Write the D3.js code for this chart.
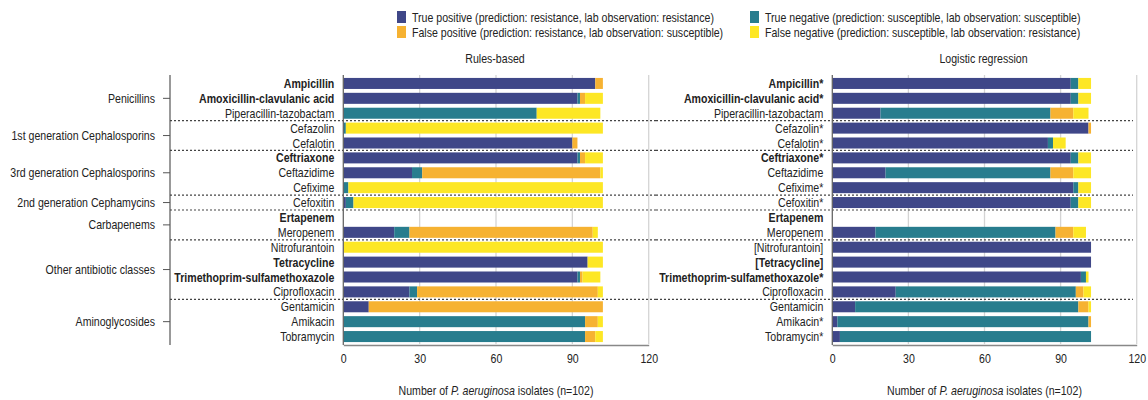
<!DOCTYPE html>
<html>
<head>
<meta charset="utf-8">
<script src="https://cdn.jsdelivr.net/npm/d3@7"></script>
<style>
  html, body { margin: 0; padding: 0; background: #fff; }
  svg { display: block; }
  text { font-family: "Liberation Sans Narrow", "Arial Narrow", "Liberation Sans", Arial, sans-serif; fill: #222; }
</style>
</head>
<body>
<svg id="chart" width="1148" height="400"></svg>
<script>
// Antibiotics, in display order (top to bottom)
const drugsRules = [
  "Ampicillin", "Amoxicillin-clavulanic acid", "Piperacillin-tazobactam",
  "Cefazolin", "Cefalotin",
  "Ceftriaxone", "Ceftazidime", "Cefixime",
  "Cefoxitin",
  "Ertapenem", "Meropenem",
  "Nitrofurantoin", "Tetracycline", "Trimethoprim-sulfamethoxazole", "Ciprofloxacin",
  "Gentamicin", "Amikacin", "Tobramycin"
];
const drugsLogistic = [
  "Ampicillin*", "Amoxicillin-clavulanic acid*", "Piperacillin-tazobactam",
  "Cefazolin*", "Cefalotin*",
  "Ceftriaxone*", "Ceftazidime", "Cefixime*",
  "Cefoxitin*",
  "Ertapenem", "Meropenem",
  "[Nitrofurantoin]", "[Tetracycline]", "Trimethoprim-sulfamethoxazole*", "Ciprofloxacin",
  "Gentamicin", "Amikacin*", "Tobramycin*"
];
// Antibiotics shown in bold
const boldRows = [0, 1, 5, 9, 12, 13];

// Antibiotic classes: name, first row, last row
const classNames = [
  "Penicillins", "1st generation Cephalosporins", "3rd generation Cephalosporins",
  "2nd generation Cephamycins", "Carbapenems", "Other antibiotic classes", "Aminoglycosides"
];
const classFirst = [0, 3, 5, 8, 9, 11, 15];
const classLast  = [2, 4, 7, 8, 10, 14, 17];

// Rules-based prediction outcomes (isolate counts)
const rulesTP = [99, 92, 0, 0, 90, 92, 27, 0, 1, 0, 20, 0, 96, 92, 26, 10, 0, 0];
const rulesTN = [0, 1, 76, 1, 0, 1, 4, 2, 3, 0, 6, 0, 0, 1, 3, 0, 95, 95];
const rulesFP = [3, 2, 0, 0, 2, 2, 70, 0, 0, 0, 72, 0, 0, 1, 71, 92, 5, 4];
const rulesFN = [0, 7, 25, 101, 0, 7, 1, 100, 98, 0, 2, 102, 6, 7, 2, 0, 2, 3];

// Logistic regression prediction outcomes (isolate counts)
const logTP = [94, 94, 19, 101, 85, 94, 21, 95, 94, 0, 17, 102, 102, 98, 25, 9, 2, 3];
const logTN = [3, 3, 67, 0, 2, 3, 65, 2, 3, 0, 71, 0, 0, 2, 71, 88, 99, 99];
const logFP = [0, 0, 9, 1, 0, 0, 9, 0, 0, 0, 7, 0, 0, 0, 3, 4, 1, 0];
const logFN = [5, 5, 6, 0, 5, 5, 7, 5, 5, 0, 5, 0, 0, 1, 3, 1, 0, 0];

const xTicks = [0, 30, 60, 90, 120];
const outcomeKeys = ["tp", "tn", "fp", "fn"];
const outcomeLabels = [
  "True positive (prediction: resistance, lab observation: resistance)",
  "True negative (prediction: susceptible, lab observation: susceptible)",
  "False positive (prediction: resistance, lab observation: susceptible)",
  "False negative (prediction: susceptible, lab observation: resistance)"
];
const outcomeColors = ["#3F4788", "#287D8E", "#F6B232", "#FDE725"];

// Condensed lettering: the regular sans face squeezed horizontally
const NARROW = 0.815;
const FONT_SIZE = 13;
function placeText(sel, x, yPos) {
  return sel.attr("x", 0).attr("y", 0)
    .attr("transform", `translate(${x},${yPos}) scale(${NARROW},1)`)
    .attr("font-size", FONT_SIZE);
}

const svg = d3.select("#chart");
const color = d3.scaleOrdinal().domain(outcomeKeys).range(outcomeColors);

const plotTop = 76, plotBottom = 344;
const y = d3.scaleBand().domain(d3.range(drugsRules.length)).range([plotTop, plotBottom]).paddingInner(0.26).paddingOuter(0.13);
const step = y.step();
const rowCenter = i => y(i) + y.bandwidth() / 2;

// ---- Legend (two columns, two rows) ----
const legendPos = [[397, 11], [750, 11], [397, 26], [750, 26]];
outcomeKeys.forEach((k, i) => {
  const [lx, ly] = legendPos[i];
  svg.append("rect").attr("x", lx).attr("y", ly).attr("width", 9).attr("height", 12).attr("fill", color(k));
  placeText(svg.append("text"), lx + 15, ly + 6).attr("dy", "0.35em").text(outcomeLabels[i]);
});

// ---- Class axis on the far left ----
const classAxisX = 170;
svg.append("line").attr("x1", classAxisX).attr("x2", classAxisX).attr("y1", plotTop - 1).attr("y2", plotBottom + 1)
  .attr("stroke", "#555").attr("stroke-width", 1.2);
classNames.forEach((name, i) => {
  const cy = (rowCenter(classFirst[i]) + rowCenter(classLast[i])) / 2;
  svg.append("line").attr("x1", classAxisX - 7).attr("x2", classAxisX).attr("y1", cy).attr("y2", cy)
    .attr("stroke", "#555").attr("stroke-width", 1);
  placeText(svg.append("text"), classAxisX - 15, cy).attr("dy", "0.35em")
    .attr("text-anchor", "end").text(name);
});

// ---- Panels ----
function drawPanel(opts) {
  const { x0, x1, labels, tp, tn, fp, fn, title, sepFrom, sepTo } = opts;
  const x = d3.scaleLinear().domain([0, 120]).range([x0, x1]);
  const g = svg.append("g");

  // grid
  g.selectAll("line.grid").data(xTicks.slice(1)).join("line")
    .attr("x1", d => x(d)).attr("x2", d => x(d)).attr("y1", plotTop - 1).attr("y2", plotBottom)
    .attr("stroke", "#d4d4d4").attr("stroke-width", 1.3);

  // stacked bars
  const rows = labels.map((name, i) => ({ i, tp: tp[i], tn: tn[i], fp: fp[i], fn: fn[i] }));
  const series = d3.stack().keys(outcomeKeys)(rows);
  g.selectAll("g.series").data(series).join("g")
    .attr("fill", d => color(d.key))
    .selectAll("rect").data(d => d).join("rect")
    .attr("x", d => x(d[0]))
    .attr("width", d => Math.max(0, x(d[1]) - x(d[0])))
    .attr("y", d => y(d.data.i))
    .attr("height", y.bandwidth());

  // class separators
  const seps = classFirst.slice(1).map(r => y(r) - (step - y.bandwidth()) / 2);
  g.selectAll("line.sep").data(seps).join("line")
    .attr("x1", sepFrom).attr("x2", sepTo).attr("y1", d => d).attr("y2", d => d)
    .attr("stroke", "#444").attr("stroke-width", 1.2).attr("stroke-dasharray", "2,2");

  // y axis line
  g.append("line").attr("x1", x0).attr("x2", x0).attr("y1", plotTop - 1).attr("y2", plotBottom + 1)
    .attr("stroke", "#666").attr("stroke-width", 1.3);
  // x axis
  const xAxis = g.append("g").attr("transform", `translate(0,${plotBottom + 1})`)
    .call(d3.axisBottom(x).tickValues(xTicks).tickSize(0).tickPadding(9));
  xAxis.select(".domain").attr("stroke", "#888").attr("stroke-width", 1.3);
  xAxis.selectAll("text").attr("font-size", FONT_SIZE).attr("fill", "#222")
    .attr("transform", `scale(${NARROW},1)`)
    .style("font-family", "'Liberation Sans Narrow', 'Arial Narrow', 'Liberation Sans', Arial, sans-serif");

  // drug labels
  labels.forEach((name, i) => {
    placeText(g.append("text"), x0 - 9, rowCenter(i)).attr("dy", "0.35em")
      .attr("text-anchor", "end")
      .attr("font-weight", boldRows.includes(i) ? "bold" : "normal")
      .text(name);
  });

  // title
  placeText(g.append("text"), (x0 + x1) / 2 - 1, 58).attr("dy", "0.35em")
    .attr("text-anchor", "middle").text(title);

  // axis title
  const t = placeText(g.append("text"), (x0 + x1) / 2, 390).attr("dy", "0.35em")
    .attr("text-anchor", "middle");
  t.append("tspan").text("Number of ");
  t.append("tspan").attr("font-style", "italic").text("P. aeruginosa");
  t.append("tspan").text(" isolates (n=102)");
}

drawPanel({ x0: 343.3, x1: 648.7, labels: drugsRules, tp: rulesTP, tn: rulesTN, fp: rulesFP, fn: rulesFN,
  title: "Rules-based", sepFrom: classAxisX, sepTo: 656 });
drawPanel({ x0: 832.3, x1: 1136.7, labels: drugsLogistic, tp: logTP, tn: logTN, fp: logFP, fn: logFN,
  title: "Logistic regression", sepFrom: 656, sepTo: 1133 });
</script>
</body>
</html>
